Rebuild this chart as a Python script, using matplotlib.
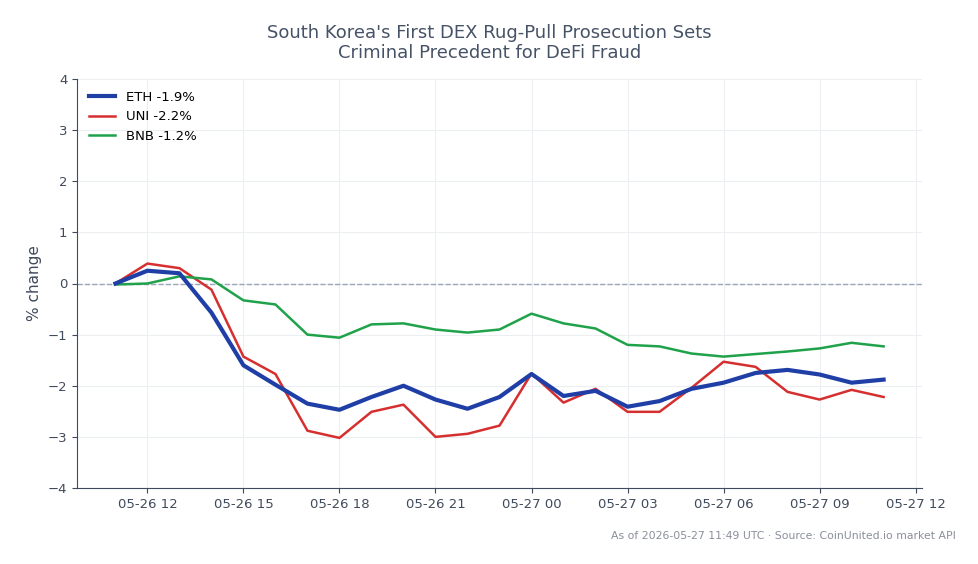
import numpy as np
import pandas as pd
import matplotlib
matplotlib.use("Agg")
import matplotlib.pyplot as plt
import matplotlib.dates as mdates

# hourly timestamps, 05-26 11:00 .. 05-27 11:00
times = pd.date_range("2026-05-26 11:00", periods=25, freq="h")

eth = [0.0, 0.25, 0.2, -0.57, -1.6, -1.98, -2.35, -2.47, -2.22, -2.0, -2.27, -2.45, -2.22,
       -1.77, -2.2, -2.1, -2.41, -2.3, -2.06, -1.94, -1.75, -1.69, -1.78, -1.94, -1.88]
uni = [0.0, 0.39, 0.3, -0.12, -1.43, -1.77, -2.88, -3.02, -2.51, -2.37, -3.0, -2.94, -2.78,
       -1.76, -2.33, -2.06, -2.51, -2.51, -2.04, -1.53, -1.63, -2.12, -2.27, -2.08, -2.22]
bnb = [-0.02, 0.0, 0.14, 0.08, -0.33, -0.41, -1.0, -1.06, -0.8, -0.78, -0.9, -0.96, -0.9,
       -0.59, -0.78, -0.88, -1.2, -1.23, -1.37, -1.43, -1.38, -1.33, -1.27, -1.16, -1.23]

labels = ["ETH -1.9%", "UNI -2.2%", "BNB -1.2%"]

text_col = "#3f4a5c"

fig = plt.figure(figsize=(9.79, 5.64), dpi=100)
ax = fig.add_axes([77/979, 1-488/564, (922-77)/979, (488-79)/564])

ax.plot(times, eth, color="#1f3fa6", lw=3, label=labels[0], zorder=4)
ax.plot(times, uni, color="#d62f2f", lw=1.8, label=labels[1], zorder=3)
ax.plot(times, bnb, color="#1fa24a", lw=1.8, label=labels[2], zorder=3)
ax.axhline(0, color="#9aa5b8", lw=1, ls="--", zorder=2)

ax.set_ylim(-4, 4)
ax.set_xlim(times[0] - pd.Timedelta(hours=1.2), times[-1] + pd.Timedelta(hours=1.2))
ax.xaxis.set_major_locator(mdates.HourLocator(byhour=[0, 3, 6, 9, 12, 15, 18, 21]))
ax.xaxis.set_major_formatter(mdates.DateFormatter("%m-%d %H"))

ax.grid(True, color="#eceef2", lw=0.8)
ax.set_axisbelow(True)
for s in ["top", "right"]:
    ax.spines[s].set_visible(False)
for s in ["left", "bottom"]:
    ax.spines[s].set_color(text_col)
ax.tick_params(colors=text_col, labelsize=9.5)
ax.set_ylabel("% change", color=text_col, fontsize=11)

ax.legend(loc="upper left", frameon=False, fontsize=9.5)

fig.suptitle("South Korea's First DEX Rug-Pull Prosecution Sets\nCriminal Precedent for DeFi Fraud",
             y=0.958, fontsize=13, color="#465266")
fig.text(0.976, 0.045, "As of 2026-05-27 11:49 UTC · Source: CoinUnited.io market API",
         ha="right", fontsize=7.8, color="#8a8f99")

fig.savefig("out.png", dpi=100)
